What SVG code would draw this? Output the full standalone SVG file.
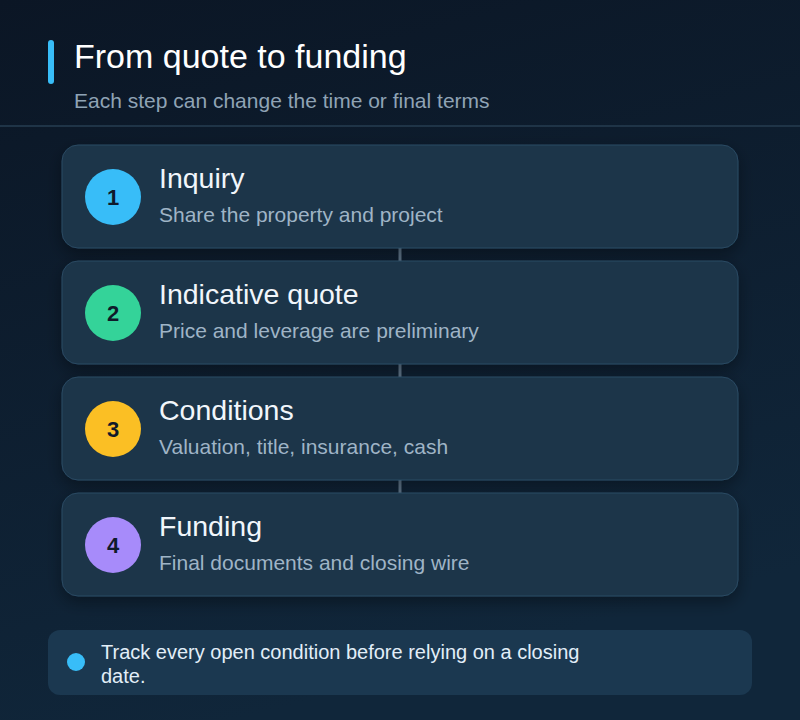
<svg xmlns="http://www.w3.org/2000/svg" width="800" height="720" viewBox="0 0 800 720">
<defs>
<linearGradient id="bg" x1="0" y1="0" x2="0.3" y2="1">
<stop offset="0" stop-color="#0b1625"/>
<stop offset="1" stop-color="#10263a"/>
</linearGradient>
<filter id="sh" x="-10%" y="-30%" width="120%" height="170%">
<feDropShadow dx="0" dy="6" stdDeviation="8" flood-color="#000" flood-opacity="0.35"/>
</filter>
<style>
text{font-family:"Liberation Sans",Arial,sans-serif}
.card{fill:#1b344a;stroke:#2b4a62;stroke-width:1}
.num{font-size:22px;font-weight:bold;fill:#0f1a2a;text-anchor:middle}
.t{font-size:28.5px;fill:#f1f6fb}
.s{font-size:21px;fill:#9fb4c6}
.conn{stroke:#5f7488;stroke-width:3}
</style>
</defs>
<rect width="800" height="720" fill="url(#bg)"/>
<rect x="48" y="40" width="6" height="44" rx="3" fill="#38bdf8"/>
<text x="74" y="68" style="font-size:34px;fill:#ffffff">From quote to funding</text>
<text x="74" y="108" style="font-size:21px;fill:#8fa3b5">Each step can change the time or final terms</text>
<line x1="0" y1="126" x2="800" y2="126" stroke="#1f3447" stroke-width="2"/>
<g id="connectors">
<line class="conn" x1="400" y1="248" x2="400" y2="261"/>
<line class="conn" x1="400" y1="364" x2="400" y2="377"/>
<line class="conn" x1="400" y1="480" x2="400" y2="493"/>
</g>
<g id="step1">
<rect class="card" x="62" y="145" width="676" height="103" rx="16" filter="url(#sh)"/>
<circle cx="113" cy="197" r="28" fill="#38bdf8"/>
<text class="num" x="113" y="205">1</text>
<text class="t" x="159" y="188">Inquiry</text>
<text class="s" x="159" y="222">Share the property and project</text>
</g>
<g id="step2">
<rect class="card" x="62" y="261" width="676" height="103" rx="16" filter="url(#sh)"/>
<circle cx="113" cy="313" r="28" fill="#34d399"/>
<text class="num" x="113" y="321">2</text>
<text class="t" x="159" y="304">Indicative quote</text>
<text class="s" x="159" y="338">Price and leverage are preliminary</text>
</g>
<g id="step3">
<rect class="card" x="62" y="377" width="676" height="103" rx="16" filter="url(#sh)"/>
<circle cx="113" cy="429" r="28" fill="#fbbf24"/>
<text class="num" x="113" y="437">3</text>
<text class="t" x="159" y="420">Conditions</text>
<text class="s" x="159" y="454">Valuation, title, insurance, cash</text>
</g>
<g id="step4">
<rect class="card" x="62" y="493" width="676" height="103" rx="16" filter="url(#sh)"/>
<circle cx="113" cy="545" r="28" fill="#a78bfa"/>
<text class="num" x="113" y="553">4</text>
<text class="t" x="159" y="536">Funding</text>
<text class="s" x="159" y="570">Final documents and closing wire</text>
</g>
<g id="note">
<rect x="48" y="630" width="704" height="65" rx="12" fill="#1b3850"/>
<circle cx="76" cy="662" r="9" fill="#38bdf8"/>
<text x="101" y="659" style="font-size:20px;fill:#e2eef8">Track every open condition before relying on a closing</text>
<text x="101" y="683" style="font-size:20px;fill:#e2eef8">date.</text>
</g>
</svg>
